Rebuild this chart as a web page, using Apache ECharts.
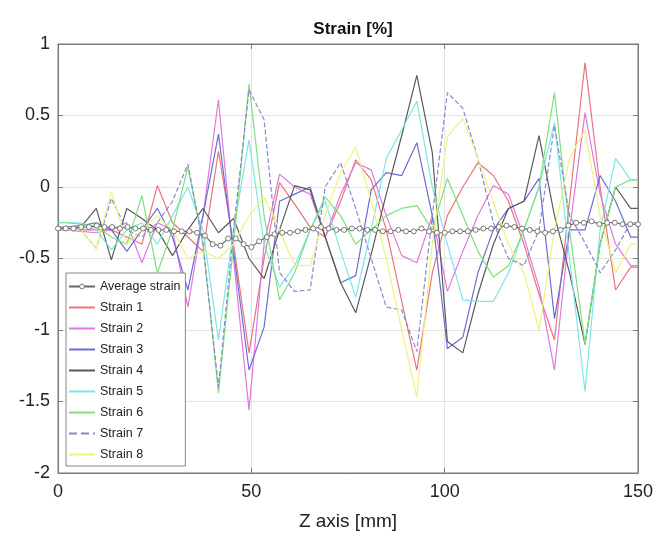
<!DOCTYPE html>
<html><head><meta charset="utf-8">
<script src="https://cdn.jsdelivr.net/npm/echarts@6/dist/echarts.min.js"></script>
<style>html,body{margin:0;padding:0;background:#fff}#c{width:657px;height:536px}</style>
</head><body><div id="c"></div>
<script>
// gauge positions [mm] (first and last entries are the plot edges)
const zPos = [0,2.0,5.9,9.9,13.8,17.8,21.7,25.7,29.6,33.6,37.5,41.5,45.4,49.4,53.3,57.3,61.2,65.2,69.1,73.1,77.0,81.0,84.9,88.9,92.8,96.8,100.7,104.7,108.6,112.6,116.5,120.5,124.4,128.4,132.3,136.3,140.2,144.2,148.1,150];
const strain1 = [-0.3,-0.3,-0.3,-0.3,-0.3,-0.35,-0.4,0.01,-0.25,-0.35,-0.45,0.25,-0.4,-1.16,-0.5,0.03,-0.12,-0.28,-0.35,-0.1,0.19,0.05,-0.3,-0.8,-1.28,-0.6,-0.2,0.0,0.17,0.08,-0.1,-0.4,-0.75,-1.07,-0.1,0.87,0.0,-0.72,-0.56,-0.56];
const strain2 = [-0.3,-0.3,-0.31,-0.32,-0.3,-0.25,-0.53,-0.25,-0.3,-0.84,-0.2,0.61,-0.5,-1.56,-0.4,0.09,0.0,-0.05,-0.35,-0.05,0.17,0.12,-0.2,-0.48,-0.53,-0.2,-0.73,-0.45,-0.2,0.01,-0.05,-0.35,-0.7,-1.28,-0.3,0.52,-0.05,-0.4,-0.55,-0.55];
const strain3 = [-0.28,-0.28,-0.27,-0.25,-0.3,-0.45,-0.3,-0.15,-0.35,-0.72,-0.2,0.37,-0.45,-1.28,-0.98,-0.1,-0.05,0.0,-0.35,-0.67,-0.62,-0.02,0.1,0.08,0.31,-0.2,-1.13,-1.05,-0.6,-0.3,-0.15,-0.1,0.06,-0.92,-0.3,-0.3,0.08,-0.1,-0.35,-0.35];
const strain4 = [-0.3,-0.3,-0.28,-0.15,-0.51,-0.15,-0.22,-0.3,-0.48,-0.3,-0.15,-0.32,-0.22,-0.5,-0.64,-0.3,0.01,-0.02,-0.35,-0.67,-0.88,-0.47,-0.05,0.36,0.78,0.24,-1.08,-1.16,-0.75,-0.4,-0.15,-0.1,0.36,-0.2,-0.6,-1.1,-0.4,0.0,-0.15,-0.15];
const strain5 = [-0.25,-0.25,-0.25,-0.3,-0.44,-0.3,-0.25,-0.4,-0.2,0.0,-0.3,-1.07,-0.3,0.33,-0.4,-0.7,-0.55,-0.3,-0.1,-0.45,-0.77,-0.3,0.2,0.4,0.6,0.0,-0.4,-0.79,-0.8,-0.8,-0.6,-0.3,0.0,0.45,-0.5,-1.43,-0.3,0.2,0.05,0.05];
const strain6 = [-0.25,-0.25,-0.26,-0.28,-0.35,-0.4,-0.06,-0.6,-0.3,0.14,-0.4,-1.44,-0.4,0.72,-0.2,-0.79,-0.6,-0.3,-0.07,-0.2,-0.4,-0.3,-0.2,-0.15,-0.13,-0.3,0.06,-0.2,-0.45,-0.63,-0.55,-0.3,0.0,0.66,-0.3,-1.1,-0.4,0.0,0.05,0.05];
const strain7 = [-0.3,-0.3,-0.3,-0.43,-0.08,-0.3,-0.35,-0.25,-0.1,0.16,-0.4,-1.4,-0.3,0.68,0.47,-0.6,-0.73,-0.72,0.0,0.17,-0.15,-0.5,-0.84,-0.86,-1.15,-0.2,0.66,0.55,0.2,-0.25,-0.5,-0.55,-0.3,0.43,-0.2,-0.39,-0.6,-0.44,-0.25,-0.25];
const strain8 = [-0.3,-0.3,-0.3,-0.43,-0.03,-0.4,-0.3,-0.2,-0.3,-0.5,-0.45,-0.5,-0.4,-0.2,-0.07,-0.3,-0.55,-0.55,-0.2,0.1,0.28,-0.1,-0.5,-1.0,-1.47,-0.4,0.35,0.48,0.2,-0.11,-0.4,-0.6,-1.0,-0.3,0.2,0.4,-0.2,-0.6,-0.4,-0.4];
// average strain, sampled every 2 mm
const avgZ = [0,2,4,6,8,10,12,14,16,18,20,22,24,26,28,30,32,34,36,38,40,42,44,46,48,50,52,54,56,58,60,62,64,66,68,70,72,74,76,78,80,82,84,86,88,90,92,94,96,98,100,102,104,106,108,110,112,114,116,118,120,122,124,126,128,130,132,134,136,138,140,142,144,146,148,150];
const average = [-0.29,-0.29,-0.29,-0.28,-0.28,-0.27,-0.28,-0.28,-0.29,-0.28,-0.29,-0.29,-0.3,-0.3,-0.3,-0.31,-0.31,-0.31,-0.32,-0.34,-0.4,-0.41,-0.36,-0.36,-0.4,-0.42,-0.38,-0.35,-0.33,-0.32,-0.32,-0.31,-0.3,-0.29,-0.28,-0.29,-0.3,-0.3,-0.29,-0.29,-0.3,-0.3,-0.31,-0.31,-0.3,-0.31,-0.31,-0.29,-0.31,-0.32,-0.32,-0.31,-0.31,-0.31,-0.3,-0.29,-0.29,-0.28,-0.27,-0.28,-0.29,-0.3,-0.31,-0.32,-0.31,-0.3,-0.27,-0.25,-0.25,-0.24,-0.26,-0.25,-0.25,-0.26,-0.26,-0.26];
const xTicks = [0,50,100,150];
const yTicks = [-2,-1.5,-1,-0.5,0,0.5,1];

const names = ['Strain 1','Strain 2','Strain 3','Strain 4','Strain 5','Strain 6','Strain 7','Strain 8'];
const colors = ['#e8747e','#e078e0','#6c6cd4','#5a5a5a','#7ce6e6','#7ee07e','#8888cc','#f2f07e'];
const data = [strain1,strain2,strain3,strain4,strain5,strain6,strain7,strain8];
const pair = (xs,arr) => xs.map((z,i)=>[z,arr[i]]);

const FONT = 'Liberation Sans, Arial, sans-serif';
const series = [{
  name:'Average strain', type:'line', data: pair(avgZ,average), z:10,
  symbol:'circle', symbolSize:5, showSymbol:true,
  lineStyle:{color:'#666',width:1.1}, itemStyle:{color:'#fff',borderColor:'#777',borderWidth:1}
}];
names.forEach((n,k)=>series.push({
  name:n, type:'line', data: pair(zPos,data[k]), symbol:'none',
  lineStyle:{color:colors[k], width:1.2, type: k===6?'dashed':'solid'}, itemStyle:{color:colors[k]}
}));

const legendData = [{name:'Average strain', itemStyle:{color:'#fff',borderColor:'#777',borderWidth:1}}]
  .concat(names.map(n=>({name:n, itemStyle:{opacity:0}})));

const axisCol = '#7a7a7a';
const chart = echarts.init(document.getElementById('c'));
chart.setOption({
  animation:false,
  title:{text:'Strain [%]', left:348, top:16, textAlign:'center',
    textStyle:{fontFamily:FONT,fontSize:17,fontWeight:'bold',color:'#111'}},
  grid:{left:58, right:19, top:44, bottom:63, show:true, borderColor:axisCol, borderWidth:1},
  legend:{orient:'vertical', left:66, top:273, itemGap:8, itemWidth:26, itemHeight:6,
    padding:[7,5,5,2], backgroundColor:'#fff', borderColor:'#888', borderWidth:1,
    textStyle:{fontFamily:FONT,fontSize:12.5,color:'#222'},
    data:legendData},
  xAxis:[{type:'value', min:0, max:150, interval:50,
    name:'Z axis [mm]', nameLocation:'middle', nameGap:39,
    nameTextStyle:{fontFamily:FONT,fontSize:19,color:'#222'},
    axisLine:{show:true,onZero:false,lineStyle:{color:axisCol}}, axisTick:{inside:true,length:5,lineStyle:{color:axisCol}},
    axisLabel:{fontFamily:FONT,fontSize:18,color:'#222',margin:10},
    splitLine:{show:true,lineStyle:{color:'#e4e4e4'}}},
   {type:'value', min:0, max:150, interval:50, position:'top',
    axisLine:{show:true,onZero:false,lineStyle:{color:axisCol}}, axisTick:{inside:true,length:5,lineStyle:{color:axisCol}},
    axisLabel:{show:false}, splitLine:{show:false}}],
  yAxis:[{type:'value', min:-2, max:1, interval:0.5,
    axisLine:{show:true,onZero:false,lineStyle:{color:axisCol}}, axisTick:{inside:true,length:5,lineStyle:{color:axisCol}},
    axisLabel:{fontFamily:FONT,fontSize:18,color:'#222',margin:8},
    splitLine:{show:true,lineStyle:{color:'#e4e4e4'}}},
   {type:'value', min:-2, max:1, interval:0.5, position:'right',
    axisLine:{show:true,onZero:false,lineStyle:{color:axisCol}}, axisTick:{inside:true,length:5,lineStyle:{color:axisCol}},
    axisLabel:{show:false}, splitLine:{show:false}}],
  series: series
});
</script></body></html>
